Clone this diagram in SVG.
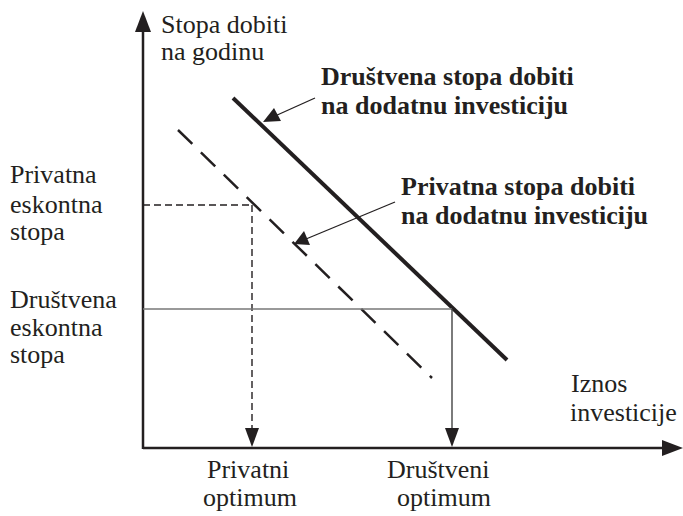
<svg xmlns="http://www.w3.org/2000/svg" width="683" height="516" viewBox="0 0 683 516">
<style>
text{font-size:26px;fill:#231f20}
.b{font-weight:bold}
.ax{stroke:#231f20;stroke-width:2.5;fill:none}
.ah{fill:#231f20}
</style>
<rect width="683" height="516" fill="#fff"/>
<g id="axes">
<line class="ax" x1="143" y1="449" x2="143" y2="28"/>
<polygon class="ah" points="143,11 135,32 151,32"/>
<line class="ax" x1="143" y1="448" x2="666" y2="448"/>
<polygon class="ah" points="683,448 662,440 662,456"/>
</g>
<g id="curves">
<line x1="233" y1="98" x2="507" y2="360" stroke="#231f20" stroke-width="4"/>
<line x1="178" y1="130" x2="432" y2="378" stroke="#231f20" stroke-width="2.5" stroke-dasharray="20 12"/>
</g>
<g id="connectors">
<line x1="143" y1="205" x2="252" y2="205" stroke="#231f20" stroke-width="1.4" stroke-dasharray="7 4"/>
<line x1="252" y1="205" x2="252" y2="430" stroke="#231f20" stroke-width="1.4" stroke-dasharray="7 4"/>
<polygon class="ah" points="252,447 245,428 259,428"/>
<line x1="143" y1="309" x2="452" y2="309" stroke="#777" stroke-width="1.6"/>
<line x1="452" y1="309" x2="452" y2="430" stroke="#444" stroke-width="1.4"/>
<polygon class="ah" points="452,447 445,428 459,428"/>
<line x1="315" y1="98" x2="275" y2="116" stroke="#231f20" stroke-width="1.3"/>
<polygon class="ah" points="263,122 274,108 281,121"/>
<line x1="395" y1="202" x2="306" y2="239" stroke="#231f20" stroke-width="1.3"/>
<polygon class="ah" points="294,244 304,231 310,245"/>
</g>
<g id="labels" font-family="Liberation Serif, Tinos, Times New Roman, DejaVu Serif, serif">
<text x="161" y="33">Stopa dobiti</text>
<text x="161" y="60">na godinu</text>
<text class="b" x="321" y="85">Društvena stopa dobiti</text>
<text class="b" x="321" y="114">na dodatnu investiciju</text>
<text class="b" x="401" y="195">Privatna stopa dobiti</text>
<text class="b" x="401" y="224">na dodatnu investiciju</text>
<text x="10" y="183">Privatna</text>
<text x="10" y="213">eskontna</text>
<text x="10" y="240">stopa</text>
<text x="10" y="308">Društvena</text>
<text x="10" y="336">eskontna</text>
<text x="10" y="363">stopa</text>
<text x="571" y="392">Iznos</text>
<text x="570" y="421">investicije</text>
<text x="207" y="478">Privatni</text>
<text x="203" y="506">optimum</text>
<text x="387" y="478">Društveni</text>
<text x="397" y="506">optimum</text>
</g>
</svg>
